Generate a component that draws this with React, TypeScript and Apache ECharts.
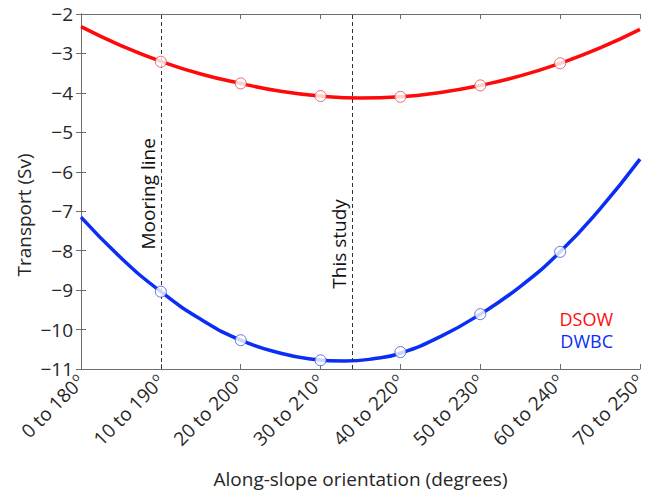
import React, { useEffect, useRef } from "react";
import * as echarts from "echarts";

// Orientation ticks (degrees offset) and their labels
const orientationTicks = [0, 10, 20, 30, 40, 50, 60, 70];
const orientationLabels = [
  "0 to 180",
  "10 to 190",
  "20 to 200",
  "30 to 210",
  "40 to 220",
  "50 to 230",
  "60 to 240",
  "70 to 250",
];

// Computed transports (Sv) at each tested orientation
const sampleX = [10, 20, 30, 40, 50, 60];
const dsowSamples = [-3.21, -3.76, -4.08, -4.1, -3.81, -3.25];
const dwbcSamples = [-9.04, -10.27, -10.78, -10.57, -9.61, -8.03];

// Fitted curves, sampled along the orientation axis (vertex included)
const dsowFitX = [0, 5, 10, 15, 20, 25, 30, 35, 40, 45, 50, 55, 60, 65, 70];
const dsowFit = [
  -2.32, -2.8, -3.2, -3.52, -3.76, -3.96, -4.08, -4.13, -4.1, -3.99, -3.81,
  -3.57, -3.25, -2.86, -2.39,
];
const dwbcFitX = [0, 5, 10, 15, 20, 25, 29, 33, 37, 40, 45, 50, 55, 60, 65, 70];
const dwbcFit = [
  -7.15, -8.18, -9.04, -9.74, -10.27, -10.6, -10.75, -10.8, -10.73, -10.6,
  -10.18, -9.61, -8.91, -8.03, -6.94, -5.68,
];

// Reference orientations marked with dashed lines
const mooringX = 10;
const studyX = 34;

const RED = "#ff0a0a";
const BLUE = "#0a2ef5";
const AXIS = "#6e6e6e";
const TEXT = "#262626";
const FONT = "Open Sans";
const FS = 19;

const pairs = (xs: number[], ys: number[]) => xs.map((x, i) => [x, ys[i]]);

export default function App() {
  const ref = useRef<HTMLDivElement>(null);

  useEffect(() => {
    if (!ref.current) return;
    const chart = echarts.init(ref.current, undefined, { renderer: "svg" });

    const minus = (v: number) => String(v).replace("-", "\u2212");
    const tickAxis = {
      axisLine: { show: true, lineStyle: { color: AXIS, width: 1 } },
      axisTick: { show: true, inside: true, length: 5, lineStyle: { color: AXIS } },
      splitLine: { show: false },
    };

    chart.setOption({
      animation: false,
      textStyle: { fontFamily: FONT },
      grid: { left: 81, right: 9, top: 14, bottom: 126, containLabel: false },
      xAxis: [
        {
          type: "value",
          min: 0,
          max: 70,
          interval: 10,
          position: "bottom",
          ...tickAxis,
          axisLabel: {
            rotate: 45,
            margin: 9,
            color: TEXT,
            formatter: (v: number) => {
              const i = orientationTicks.indexOf(v);
              return i < 0 ? "" : `{a|${orientationLabels[i]}}{s|o}`;
            },
            rich: {
              a: { fontSize: FS, color: TEXT, fontFamily: FONT },
              s: { fontSize: 12, color: TEXT, fontFamily: FONT, padding: [0, 0, 10, 1] },
            },
          },
          name: "Along-slope orientation (degrees)",
          nameLocation: "middle",
          nameGap: 100,
          nameTextStyle: { fontSize: FS, color: TEXT, fontFamily: FONT },
        },
        {
          type: "value",
          min: 0,
          max: 70,
          interval: 10,
          position: "top",
          ...tickAxis,
          axisLabel: { show: false },
        },
      ],
      yAxis: [
        {
          type: "value",
          min: -11,
          max: -2,
          interval: 1,
          position: "left",
          ...tickAxis,
          axisLabel: { fontSize: FS, color: TEXT, margin: 8, formatter: minus },
        },
        {
          type: "value",
          min: -11,
          max: -2,
          interval: 1,
          position: "right",
          ...tickAxis,
          axisLabel: { show: false },
        },
      ],
      series: [
        {
          name: "DSOW fit",
          type: "line",
          data: pairs(dsowFitX, dsowFit),
          smooth: true,
          showSymbol: false,
          lineStyle: { color: RED, width: 3.5 },
          z: 3,
          markLine: {
            silent: true,
            symbol: "none",
            label: { show: false },
            lineStyle: { color: "#333", type: [4, 3], width: 1 },
            data: [{ xAxis: mooringX }, { xAxis: studyX }],
          },
        },
        {
          name: "DWBC fit",
          type: "line",
          data: pairs(dwbcFitX, dwbcFit),
          smooth: true,
          showSymbol: false,
          lineStyle: { color: BLUE, width: 3.5 },
          z: 3,
        },
        {
          name: "DSOW",
          type: "scatter",
          data: pairs(sampleX, dsowSamples),
          symbol: "circle",
          symbolSize: 11,
          itemStyle: { color: "#fff", borderColor: "#e04a4a", borderWidth: 1 },
          z: 5,
        },
        {
          name: "DWBC",
          type: "scatter",
          data: pairs(sampleX, dwbcSamples),
          symbol: "circle",
          symbolSize: 11,
          itemStyle: { color: "#fff", borderColor: "#3a55d8", borderWidth: 1 },
          z: 5,
        },
      ],
    });

    // Place the annotation texts beside the dashed reference lines
    const moor = chart.convertToPixel({ xAxisIndex: 0, yAxisIndex: 0 }, [mooringX, -6.56]);
    const study = chart.convertToPixel({ xAxisIndex: 0, yAxisIndex: 0 }, [studyX, -7.83]);
    const vText = (x: number, y: number, text: string, fill: string) => ({
      type: "text",
      x,
      y,
      rotation: Math.PI / 2,
      style: {
        text,
        fontSize: FS,
        fontFamily: FONT,
        fill,
        align: "center",
        verticalAlign: "middle",
      },
    });

    chart.setOption({
      graphic: [
        vText(moor[0] - 13, moor[1], "Mooring line", "#111"),
        vText(study[0] - 14, study[1], "This study", "#111"),
        vText(24, 215, "Transport (Sv)", TEXT),
        {
          type: "text",
          right: 36,
          top: 310,
          style: { text: "DSOW", fontSize: 18, lineHeight: 18, fontFamily: FONT, fill: RED },
        },
        {
          type: "text",
          right: 36,
          top: 332,
          style: { text: "DWBC", fontSize: 18, lineHeight: 18, fontFamily: FONT, fill: BLUE },
        },
      ],
    });

    return () => chart.dispose();
  }, []);

  return (
    <div
      ref={ref}
      style={{ position: "absolute", left: 0, top: 0, width: 649, height: 495 }}
    />
  );
}
